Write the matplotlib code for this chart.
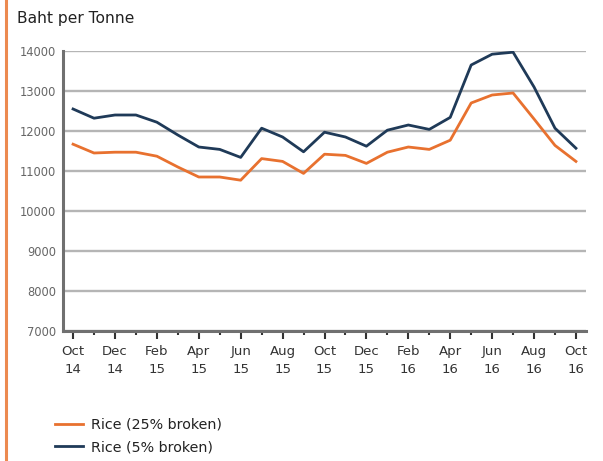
import numpy as np
import matplotlib.pyplot as plt
from matplotlib.lines import Line2D

# 月度数据 Oct 2014 - Oct 2016
months = ["Oct", "Nov", "Dec", "Jan", "Feb", "Mar", "Apr", "May", "Jun", "Jul", "Aug", "Sep",
          "Oct", "Nov", "Dec", "Jan", "Feb", "Mar", "Apr", "May", "Jun", "Jul", "Aug", "Sep", "Oct"]
years = ["14", "14", "14", "15", "15", "15", "15", "15", "15", "15", "15", "15",
         "15", "15", "15", "16", "16", "16", "16", "16", "16", "16", "16", "16", "16"]

rice_25 = [11670, 11450, 11470, 11470, 11370, 11100, 10850, 10850, 10770, 11310, 11240, 10940,
           11420, 11390, 11190, 11470, 11600, 11540, 11770, 12700, 12900, 12950, 12300, 11640, 11240]
rice_5 = [12550, 12320, 12400, 12400, 12220, 11900, 11600, 11540, 11340, 12070, 11850, 11480,
          11970, 11850, 11620, 12020, 12150, 12040, 12340, 13650, 13920, 13970, 13100, 12070, 11570]

orange = "#E8712F"
navy = "#1F3A58"

fig = plt.figure(figsize=(6.03, 4.61), dpi=100)
fig.patch.set_facecolor("white")
ax = fig.add_axes([63 / 603, 1 - 331 / 461, (586 - 63) / 603, (331 - 51) / 461])

x = np.arange(len(months))
ax.plot(x, rice_25, color=orange, lw=2.0, solid_joinstyle="round", zorder=3)
ax.plot(x, rice_5, color=navy, lw=2.0, solid_joinstyle="round", zorder=3)

ax.set_ylim(7000, 14000)
ax.set_xlim(-0.48, 24.48)
ax.set_yticks(np.arange(7000, 14001, 1000))
ax.tick_params(axis="y", length=0, labelsize=8.3, labelcolor="#666666", pad=5)
ax.yaxis.grid(True, color="#b5b5b5", lw=1.7, zorder=1)
ax.set_axisbelow(True)

major = x[::2]
ax.set_xticks(major)
ax.set_xticklabels([f"{months[i]}\n{years[i]}" for i in major], fontsize=9.5,
                   color="#333333", linespacing=1.55)
ax.set_xticks(x[1::2], minor=True)
ax.tick_params(axis="x", which="major", length=6, width=1.5, color="#333333", pad=4)
ax.tick_params(axis="x", which="minor", length=3, width=1.5, color="#333333")

for s in ["top", "right"]:
    ax.spines[s].set_visible(False)
for s in ["left", "bottom"]:
    ax.spines[s].set_color("#707070")
    ax.spines[s].set_linewidth(2.2)

fig.text(17 / 603, 1 - 18 / 461, "Baht per Tonne", fontsize=11.2, color="#222222", va="center")

# 左侧橙色边线
fig.add_artist(Line2D([5.5 / 603, 5.5 / 603], [0, 1], color="#EC8A50", lw=2.2))

handles = [Line2D([], [], color=orange, lw=2.0), Line2D([], [], color=navy, lw=2.0)]
fig.legend(handles, ["Rice (25% broken)", "Rice (5% broken)"], loc="upper left",
           bbox_to_anchor=(42 / 603, 1 - 405 / 461), frameon=False, fontsize=10.3,
           handlelength=2.0, handletextpad=0.55, labelspacing=0.6, labelcolor="#222222")

fig.savefig("out.png", dpi=100)
